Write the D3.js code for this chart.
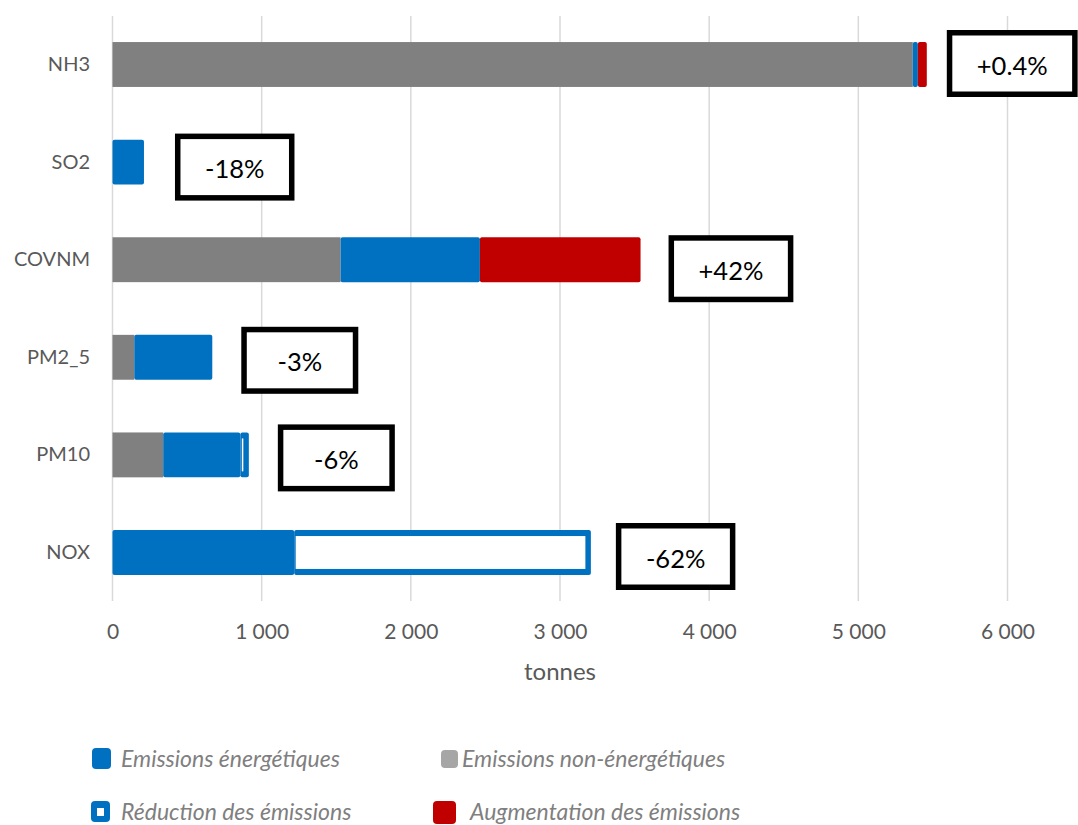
<!DOCTYPE html>
<html>
<head>
<meta charset="utf-8">
<script src="https://cdn.jsdelivr.net/npm/d3@7/dist/d3.min.js"></script>
<style>
  html, body { margin: 0; padding: 0; background: #ffffff; }
  svg { display: block; }
  text { font-family: Lato, "Noto Sans", sans-serif; }
</style>
</head>
<body>
<svg id="chart" width="1078" height="825"></svg>
<script>
// Pollutants, top to bottom
const categories = ["NH3", "SO2", "COVNM", "PM2_5", "PM10", "NOX"];
// Emissions in tonnes per component
const nonEnergy = [5365, 0, 1529, 146, 340, 0];
const energy    = [34, 211, 934, 523, 517, 1218];
const increase  = [60, 0, 1077, 0, 0, 0];
const reduction = [0, 0, 0, 0, 57, 1989];
// Change labels shown in boxes beside each bar
const changeLabels = ["+0.4%", "-18%", "+42%", "-3%", "-6%", "-62%"];
const xTicks = [0, 1000, 2000, 3000, 4000, 5000, 6000];
const axisTitle = "tonnes";
const legendLabels = ["Emissions énergétiques", "Emissions non-énergétiques",
                      "Réduction des émissions", "Augmentation des émissions"];

// Layout: manual nudges for the change boxes (px from bar end / band centre)
const boxDx = [20, 31, 28, 29, 29, 25];
const boxDy = [-1, 5, 9, 3, 3, 4];

const BLUE = "#0070C0", GREY = "#808080", RED = "#C00000";

const svg = d3.select("#chart");
const fmt = d => d3.format(",")(d).replace(/,/g, "\u202F");

const x = d3.scaleLinear().domain([0, 6000]).range([112.5, 1007.5]);
const y = d3.scaleBand().domain(categories).range([15.7, 601.3]).paddingInner(0.54).paddingOuter(0.27);

// vertical gridlines
svg.append("g").selectAll("line").data(xTicks).join("line")
  .attr("x1", d => x(d)).attr("x2", d => x(d))
  .attr("y1", 16).attr("y2", 601)
  .attr("stroke", "#d9d9d9").attr("stroke-width", 1.5);

// x tick labels
const xAxis = d3.axisBottom(x).tickValues(xTicks).tickFormat(fmt).tickSize(0).tickPadding(0);
const gx = svg.append("g").attr("transform", "translate(0,624)").call(xAxis);
gx.select(".domain").remove();
gx.selectAll("text").attr("font-size", 21).attr("fill", "#595959")
  .attr("font-family", "Lato, sans-serif");

svg.append("text").attr("x", 560).attr("y", 680).attr("text-anchor", "middle")
  .attr("font-size", 24).attr("fill", "#595959").text(axisTitle);

// category labels
const yAxis = d3.axisLeft(y).tickSize(0).tickPadding(0);
const gy = svg.append("g").attr("transform", "translate(90,0)").call(yAxis);
gy.select(".domain").remove();
gy.selectAll("text").attr("font-size", 20).attr("fill", "#595959")
  .attr("font-family", "Lato, sans-serif");

// stacked segments: non-energy, energy, then increase or reduction
const rows = categories.map((c, i) => {
  const a = nonEnergy[i], b = a + energy[i];
  return {
    cat: c, i,
    grey: [0, a],
    blue: [a, b],
    red: [b, b + increase[i]],
    redu: [b, b + reduction[i]],
    end: b + increase[i] + reduction[i]
  };
});

const bars = svg.append("g");
const bh = y.bandwidth();

bars.selectAll("rect.grey").data(rows.filter(r => nonEnergy[r.i] > 0)).join("rect")
  .attr("x", r => x(r.grey[0])).attr("width", r => x(r.grey[1]) - x(r.grey[0]))
  .attr("y", r => y(r.cat)).attr("height", bh).attr("fill", GREY);

bars.selectAll("rect.blue").data(rows.filter(r => energy[r.i] > 0)).join("rect")
  .attr("x", r => x(r.blue[0])).attr("width", r => x(r.blue[1]) - x(r.blue[0]))
  .attr("y", r => y(r.cat)).attr("height", bh).attr("fill", BLUE).attr("rx", 2);

bars.selectAll("rect.red").data(rows.filter(r => increase[r.i] > 0)).join("rect")
  .attr("x", r => x(r.red[0])).attr("width", r => x(r.red[1]) - x(r.red[0]))
  .attr("y", r => y(r.cat)).attr("height", bh).attr("fill", RED).attr("rx", 2);

// reduction: blue frame with a white interior
const redu = bars.selectAll("g.redu").data(rows.filter(r => reduction[r.i] > 0)).join("g");
redu.append("rect")
  .attr("x", r => x(r.redu[0])).attr("width", r => x(r.redu[1]) - x(r.redu[0]))
  .attr("y", r => y(r.cat)).attr("height", bh).attr("fill", BLUE).attr("rx", 2);
redu.append("rect")
  .attr("x", r => x(r.redu[0]) + 1.5)
  .attr("width", r => Math.max(1, x(r.redu[1]) - x(r.redu[0]) - 7))
  .attr("y", r => y(r.cat) + 6).attr("height", bh - 12).attr("fill", "#ffffff");

// change boxes
const boxes = svg.append("g").selectAll("g").data(rows).join("g");
boxes.each(function (r) {
  const g = d3.select(this);
  const t = g.append("text").attr("font-size", 25.5).attr("fill", "#000")
    .attr("text-anchor", "middle").attr("dominant-baseline", "central")
    .text(changeLabels[r.i]);
  const tw = t.node().getComputedTextLength();
  const w = Math.max(117, tw + 60), h = 67, sw = 5.5;
  const bx = x(r.end) + boxDx[r.i];
  const cy = y(r.cat) + bh / 2 + boxDy[r.i];
  g.insert("rect", "text")
    .attr("x", bx + sw / 2).attr("y", cy - h / 2 + sw / 2)
    .attr("width", w - sw).attr("height", h - sw)
    .attr("fill", "#fff").attr("stroke", "#000").attr("stroke-width", sw);
  t.attr("x", bx + w / 2).attr("y", cy + 1);
});

// legend
const legend = [
  { label: legendLabels[0], kind: "blue", mx: 92, my: 748, mw: 19, mh: 21, tx: 121, ty: 767 },
  { label: legendLabels[1], kind: "grey", mx: 441, my: 750, mw: 17, mh: 18, tx: 462, ty: 767 },
  { label: legendLabels[2], kind: "frame", mx: 91, my: 801, mw: 19, mh: 21, tx: 121, ty: 820 },
  { label: legendLabels[3], kind: "red", mx: 433, my: 801, mw: 23, mh: 23, tx: 470, ty: 820 }
];
const lg = svg.append("g").selectAll("g").data(legend).join("g");
lg.append("rect")
  .attr("x", d => d.mx).attr("y", d => d.my).attr("width", d => d.mw).attr("height", d => d.mh)
  .attr("rx", 4)
  .attr("fill", d => d.kind === "grey" ? "#a6a6a6" : d.kind === "red" ? RED : BLUE);
lg.filter(d => d.kind === "frame").append("rect")
  .attr("x", d => d.mx + 6).attr("y", d => d.my + 7).attr("width", d => d.mw - 12).attr("height", d => d.mh - 13)
  .attr("fill", "#fff");
lg.append("text")
  .attr("x", d => d.tx).attr("y", d => d.ty)
  .attr("font-size", 23).attr("font-style", "italic").attr("fill", "#7f7f7f")
  .text(d => d.label);
</script>
</body>
</html>
